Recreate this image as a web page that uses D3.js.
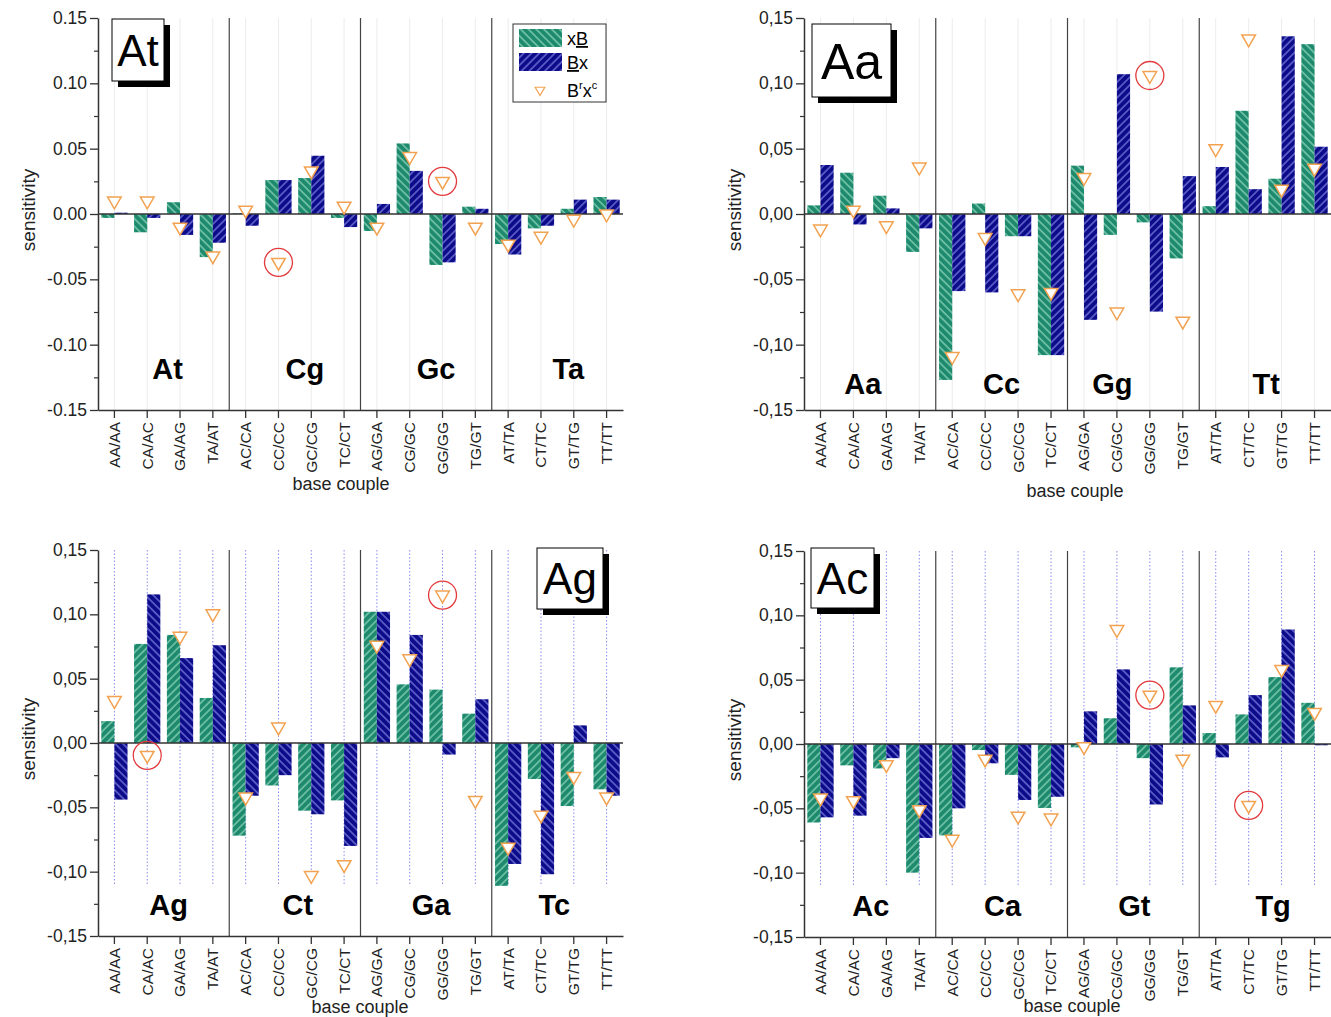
<!DOCTYPE html>
<html>
<head>
<meta charset="utf-8">
<script src="https://cdn.jsdelivr.net/npm/d3@7"></script>
<style>
  body { margin: 0; background: #fff; }
  text { font-family: Arial, "Liberation Sans", sans-serif; }
</style>
</head>
<body>
<svg id="chart"></svg>
<script>
// base couples on the x axis, four per group
var categories = ["AA/AA", "CA/AC", "GA/AG", "TA/AT", "AC/CA", "CC/CC", "GC/CG", "TC/CT",
                  "AG/GA", "CG/GC", "GG/GG", "TG/GT", "AT/TA", "CT/TC", "GT/TG", "TT/TT"];
var yTicks = [-0.15, -0.10, -0.05, 0.00, 0.05, 0.10, 0.15];

// panel At
var atGroups = ["At", "Cg", "Gc", "Ta"];
var atXB = [-0.003, -0.014, 0.009, -0.033, 0.0005, 0.026, 0.0275, -0.003, -0.013, 0.054, -0.039, 0.0056, -0.023, -0.011, 0.004, 0.013];
var atBx = [0.001, -0.003, -0.016, -0.022, -0.009, 0.026, 0.0446, -0.010, 0.0077, 0.033, -0.037, 0.004, -0.031, -0.009, 0.011, 0.011];
var atBrXc = [0.010, 0.010, -0.010, -0.032, 0.003, -0.037, 0.033, 0.006, -0.010, 0.044, 0.025, -0.010, -0.023, -0.017, -0.004, 0.000];
var atCircled = ["CC/CC", "GG/GG"];

// panel Aa
var aaGroups = ["Aa", "Cc", "Gg", "Tt"];
var aaXB = [0.0066, 0.0316, 0.014, -0.029, -0.127, 0.008, -0.017, -0.108, 0.037, -0.016, -0.0064, -0.034, 0.006, 0.079, 0.027, 0.130];
var aaBx = [0.0375, -0.008, 0.0043, -0.011, -0.059, -0.060, -0.017, -0.108, -0.081, 0.107, -0.0747, 0.029, 0.036, 0.019, 0.136, 0.0515];
var aaBrXc = [-0.0115, 0.003, -0.009, 0.036, -0.109, -0.018, -0.061, -0.060, 0.028, -0.075, 0.106, -0.082, 0.050, 0.134, 0.019, 0.035];
var aaCircled = ["GG/GG"];

// panel Ag
var agGroups = ["Ag", "Ct", "Ga", "Tc"];
var agXB = [0.017, 0.077, 0.084, 0.035, -0.072, -0.033, -0.0526, -0.0446, 0.102, 0.0456, 0.0415, 0.0228, -0.111, -0.028, -0.049, -0.036];
var agBx = [-0.044, 0.1155, 0.066, 0.076, -0.041, -0.025, -0.0554, -0.080, 0.102, 0.084, -0.009, 0.034, -0.094, -0.102, 0.0137, -0.041];
var agBrXc = [0.033, -0.0096, 0.083, 0.1005, -0.042, 0.0124, -0.103, -0.0945, 0.076, 0.0655, 0.115, -0.0446, -0.081, -0.056, -0.026, -0.042];
var agCircled = ["CA/AC", "GG/GG"];

// panel Ac
var acGroups = ["Ac", "Ca", "Gt", "Tg"];
var acXB = [-0.061, -0.0166, -0.019, -0.100, -0.071, -0.0047, -0.024, -0.0497, -0.0026, 0.020, -0.011, 0.0596, 0.0085, 0.023, 0.052, 0.032];
var acBx = [-0.057, -0.0557, -0.011, -0.073, -0.050, -0.015, -0.0435, -0.041, 0.0254, 0.058, -0.047, 0.030, -0.0104, 0.038, 0.089, -0.001];
var acBrXc = [-0.042, -0.044, -0.016, -0.051, -0.074, -0.0117, -0.056, -0.0575, -0.002, 0.089, 0.038, -0.0117, 0.030, -0.0477, 0.058, 0.0246];
var acCircled = ["GG/GG", "CT/TC"];

var svg = d3.select("#chart")
    .attr("width", 1331)
    .attr("height", 1017);

// hatch fills for the bars
var defs = svg.append("defs");
function hatch(id, bg, fg, angle) {
    var p = defs.append("pattern")
        .attr("id", id)
        .attr("patternUnits", "userSpaceOnUse")
        .attr("width", 5.5)
        .attr("height", 5.5)
        .attr("patternTransform", "rotate(" + angle + ")");
    p.append("rect").attr("width", 5.5).attr("height", 5.5).attr("fill", bg);
    p.append("line").attr("x1", 1).attr("y1", 0).attr("x2", 1).attr("y2", 5.5)
        .attr("stroke", fg).attr("stroke-width", 1.3);
}
var green = "#1d8a6e", greenLine = "#8bd2b6";
var blue = "#0c0c8a", blueLine = "#7878dc";
hatch("green-back", green, greenLine, -45);
hatch("green-fwd", green, greenLine, 45);
hatch("blue-back", blue, blueLine, -45);
hatch("blue-fwd", blue, blueLine, 45);

var orange = "#f2a250";

function fmt(comma) {
    return function(v) {
        var s = Math.abs(v) < 1e-9 ? "0.00" : v.toFixed(2);
        return comma ? s.replace(".", ",") : s;
    };
}

function drawPanel(p) {
    var g = svg.append("g");

    var x = d3.scaleBand()
        .domain(categories)
        .range([p.left, p.right])
        .paddingInner(0.2)
        .paddingOuter(0.1);
    var xSub = d3.scaleBand()
        .domain(["xB", "Bx"])
        .range([0, x.bandwidth()]);
    var y = d3.scaleLinear()
        .domain([-0.15, 0.15])
        .range([p.bottom, p.top]);
    var cx = function(c) { return x(c) + x.bandwidth() / 2; };

    // vertical guide lines at each base couple
    if (p.dotted) {
        g.selectAll(".guide").data(categories).enter().append("line")
            .attr("x1", cx).attr("x2", cx)
            .attr("y1", p.top).attr("y2", y(-0.11))
            .attr("stroke", "#8a8af0")
            .attr("stroke-width", 1)
            .attr("stroke-dasharray", "1.5,2");
    } else {
        g.selectAll(".guide").data(categories).enter().append("line")
            .attr("x1", cx).attr("x2", cx)
            .attr("y1", p.top).attr("y2", p.bottom)
            .attr("stroke", "#ececec")
            .attr("stroke-width", 1);
    }

    // group separators
    [4, 8, 12].forEach(function(i) {
        var sx = (cx(categories[i - 1]) + cx(categories[i])) / 2;
        g.append("line")
            .attr("x1", sx).attr("x2", sx)
            .attr("y1", p.top).attr("y2", p.bottom)
            .attr("stroke", "#444")
            .attr("stroke-width", 1.2);
    });

    // bars
    var rows = categories.map(function(c, i) {
        return { cat: c, xB: p.xB[i], Bx: p.Bx[i], BrXc: p.BrXc[i] };
    });
    ["xB", "Bx"].forEach(function(key) {
        var fill = key === "xB" ? p.greenFill : p.blueFill;
        g.selectAll(".bar-" + key).data(rows).enter().append("rect")
            .attr("x", function(d) { return x(d.cat) + xSub(key); })
            .attr("width", xSub.bandwidth())
            .attr("y", function(d) { return y(Math.max(0, d[key])); })
            .attr("height", function(d) { return Math.abs(y(d[key]) - y(0)); })
            .attr("fill", "url(#" + fill + ")");
    });

    // zero line
    g.append("line")
        .attr("x1", p.left).attr("x2", p.right)
        .attr("y1", y(0)).attr("y2", y(0))
        .attr("stroke", "#333")
        .attr("stroke-width", 1.3);

    // x axis
    var xAxis = g.append("g")
        .attr("transform", "translate(0," + p.bottom + ")")
        .call(d3.axisBottom(x).tickSize(8).tickSizeOuter(0));
    xAxis.select(".domain").attr("stroke", "#333").attr("stroke-width", 1.5);
    xAxis.selectAll(".tick line").attr("stroke", "#333").attr("stroke-width", 1.3);
    xAxis.selectAll("text")
        .attr("transform", "rotate(-90)")
        .attr("x", -12)
        .attr("y", 0)
        .attr("dy", "0.35em")
        .style("text-anchor", "end")
        .style("font-size", "15.5px")
        .style("font-family", "Arial, 'Liberation Sans', sans-serif")
        .attr("fill", "#222");

    // y axis, major and minor ticks
    var yAxis = g.append("g")
        .attr("transform", "translate(" + p.left + ",0)")
        .call(d3.axisLeft(y).tickValues(yTicks).tickFormat(fmt(p.comma)).tickSize(8).tickSizeOuter(0));
    yAxis.select(".domain").attr("stroke", "#333").attr("stroke-width", 1.5);
    yAxis.selectAll(".tick line").attr("stroke", "#333").attr("stroke-width", 1.3);
    yAxis.selectAll("text")
        .style("font-size", "17.5px")
        .style("font-family", "Arial, 'Liberation Sans', sans-serif")
        .attr("fill", "#222");
    var minor = g.append("g")
        .attr("transform", "translate(" + p.left + ",0)")
        .call(d3.axisLeft(y).tickValues([-0.125, -0.075, -0.025, 0.025, 0.075, 0.125]).tickFormat("").tickSize(4).tickSizeOuter(0));
    minor.select(".domain").remove();
    minor.selectAll(".tick line").attr("stroke", "#333").attr("stroke-width", 1.2);

    // B^r x^c markers
    var tri = d3.symbol().type(d3.symbolTriangle).size(80);
    g.selectAll(".tri").data(rows).enter().append("path")
        .attr("d", tri)
        .attr("transform", function(d) { return "translate(" + cx(d.cat) + "," + y(d.BrXc) + ") rotate(180)"; })
        .attr("fill", "#fff")
        .attr("stroke", orange)
        .attr("stroke-width", 1.5);

    // red circles round the highlighted markers
    g.selectAll(".ring").data(rows.filter(function(d) { return p.circled.indexOf(d.cat) >= 0; }))
        .enter().append("circle")
        .attr("cx", function(d) { return cx(d.cat); })
        .attr("cy", function(d) { return y(d.BrXc); })
        .attr("r", 14)
        .attr("fill", "none")
        .attr("stroke", "#e2393c")
        .attr("stroke-width", 1.3);

    // bold group names
    p.groups.forEach(function(name, i) {
        var gx = (x(categories[i * 4]) + x(categories[i * 4 + 3]) + x.bandwidth()) / 2;
        g.append("text")
            .attr("x", gx + p.groupShift[i])
            .attr("y", y(p.groupY))
            .attr("text-anchor", "middle")
            .style("font-size", "29px")
            .style("font-weight", "bold")
            .text(name);
    });

    // axis titles
    g.append("text")
        .attr("transform", "translate(" + (p.left - 70) + "," + ((p.top + p.bottom) / 2 - 4) + ") rotate(-90)")
        .attr("text-anchor", "middle")
        .attr("dy", "0.35em")
        .style("font-size", "19px")
        .attr("fill", "#222")
        .text("sensitivity");
    g.append("text")
        .attr("x", p.xTitle[0])
        .attr("y", p.xTitle[1])
        .attr("text-anchor", "middle")
        .style("font-size", "18px")
        .attr("fill", "#222")
        .text("base couple");

    // panel name box with shadow
    var b = p.box;
    g.append("rect")
        .attr("x", b.x + 6).attr("y", b.y + 6)
        .attr("width", b.w).attr("height", b.h)
        .attr("fill", "#000");
    g.append("rect")
        .attr("x", b.x).attr("y", b.y)
        .attr("width", b.w).attr("height", b.h)
        .attr("fill", "#fff")
        .attr("stroke", "#000")
        .attr("stroke-width", 1);
    g.append("text")
        .attr("x", b.x + b.w / 2)
        .attr("y", b.y + b.h / 2 + b.fs * 0.36)
        .attr("text-anchor", "middle")
        .style("font-size", b.fs + "px")
        .text(p.name);
}

var topHatch = { greenFill: "green-back", blueFill: "blue-fwd" };
var bottomHatch = { greenFill: "green-fwd", blueFill: "blue-back" };

drawPanel(Object.assign({
    name: "At", left: 98, right: 623, top: 18, bottom: 410, comma: false, dotted: false,
    xB: atXB, Bx: atBx, BrXc: atBrXc, circled: atCircled, groups: atGroups,
    groupY: -0.126, groupShift: [4, 10, 10, 11], xTitle: [341, 490],
    box: { x: 112, y: 19, w: 52, h: 62, fs: 44 }
}, topHatch));

drawPanel(Object.assign({
    name: "Aa", left: 804, right: 1331, top: 18, bottom: 410, comma: true, dotted: false,
    xB: aaXB, Bx: aaBx, BrXc: aaBrXc, circled: aaCircled, groups: aaGroups,
    groupY: -0.138, groupShift: [-7, 0, -21, 1], xTitle: [1075, 497],
    box: { x: 812, y: 24, w: 79, h: 73, fs: 50 }
}, topHatch));

drawPanel(Object.assign({
    name: "Ag", left: 98, right: 623, top: 550, bottom: 936, comma: true, dotted: true,
    xB: agXB, Bx: agBx, BrXc: agBrXc, circled: agCircled, groups: agGroups,
    groupY: -0.134, groupShift: [5, 3, 5, -3], xTitle: [360, 1013],
    box: { x: 537, y: 548, w: 66, h: 61, fs: 44 }
}, bottomHatch));

drawPanel(Object.assign({
    name: "Ac", left: 804, right: 1331, top: 551, bottom: 937, comma: true, dotted: true,
    xB: acXB, Bx: acBx, BrXc: acBrXc, circled: acCircled, groups: acGroups,
    groupY: -0.134, groupShift: [1, 1, 1, 8], xTitle: [1072, 1012],
    box: { x: 811, y: 548, w: 63, h: 60, fs: 44 }
}, bottomHatch));

// legend in the first panel
var legend = svg.append("g");
legend.append("rect")
    .attr("x", 513).attr("y", 24)
    .attr("width", 93).attr("height", 78)
    .attr("fill", "#fff")
    .attr("stroke", "#333")
    .attr("stroke-width", 1);
legend.append("rect")
    .attr("x", 519).attr("y", 29).attr("width", 43).attr("height", 18)
    .attr("fill", "url(#green-back)");
legend.append("rect")
    .attr("x", 519).attr("y", 53).attr("width", 43).attr("height", 18)
    .attr("fill", "url(#blue-fwd)");
legend.append("path")
    .attr("d", d3.symbol().type(d3.symbolTriangle).size(40))
    .attr("transform", "translate(540,90) rotate(180)")
    .attr("fill", "#fff")
    .attr("stroke", orange)
    .attr("stroke-width", 1.2);

var t1 = legend.append("text").attr("x", 567).attr("y", 45).style("font-size", "18px");
t1.append("tspan").text("x");
t1.append("tspan").style("text-decoration", "underline").text("B");
var t2 = legend.append("text").attr("x", 567).attr("y", 69).style("font-size", "18px");
t2.append("tspan").style("text-decoration", "underline").text("B");
t2.append("tspan").text("x");
var t3 = legend.append("text").attr("x", 567).attr("y", 97).style("font-size", "18px");
t3.append("tspan").text("B");
t3.append("tspan").attr("dy", -8).style("font-size", "11px").text("r");
t3.append("tspan").attr("dy", 8).text("x");
t3.append("tspan").attr("dy", -8).style("font-size", "11px").text("c");
</script>
</body>
</html>
